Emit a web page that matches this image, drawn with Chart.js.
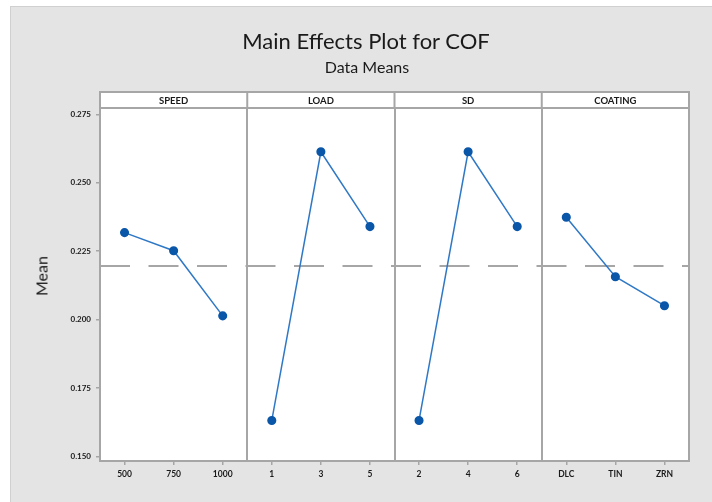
<!DOCTYPE html>
<html>
<head>
<meta charset="utf-8">
<script src="https://cdn.jsdelivr.net/npm/chart.js@4.4.1/dist/chart.umd.min.js"></script>
<style>
    html, body { margin: 0; padding: 0; background: #ffffff; }
    #page { position: relative; width: 712px; height: 502px; overflow: hidden; }
    #frame {
        position: absolute; left: 10px; top: 6px; width: 702px; height: 496px;
        background: #e4e4e4; border-left: 1px solid #d0d0d0; border-top: 1px solid #d0d0d0;
        box-sizing: border-box;
    }
    #chartWrap { position: absolute; left: 0; top: 0; width: 712px; height: 502px; }
    .txt { position: absolute; font-family: Lato, sans-serif; font-weight: normal; color: #1a1a1a; white-space: nowrap; }
    #title { left: 366px; top: 40px; transform: translate(-50%, -50%); font-size: 22px; }
    #subtitle { left: 367px; top: 66px; transform: translate(-50%, -50%); font-size: 16px; }
    #yTitle { left: 41px; top: 276px; transform: translate(-50%, -50%) rotate(-90deg); font-size: 16px; }
</style>
</head>
<body>
<div id="page">
    <div id="frame"></div>
    <div id="chartWrap"><canvas id="mainEffectsChart" width="712" height="502"></canvas></div>
    <div class="txt" id="title">Main Effects Plot for COF</div>
    <div class="txt" id="subtitle">Data Means</div>
    <div class="txt" id="yTitle">Mean</div>
</div>
<script>
// Factors and their level means
const factors = ['SPEED', 'LOAD', 'SD', 'COATING'];
const speedLevels = ['500', '750', '1000'];
const speedMeans = [0.2318, 0.2252, 0.2014];
const loadLevels = ['1', '3', '5'];
const loadMeans = [0.1632, 0.2613, 0.2340];
const sdLevels = ['2', '4', '6'];
const sdMeans = [0.1632, 0.2613, 0.2340];
const coatingLevels = ['DLC', 'TIN', 'ZRN'];
const coatingMeans = [0.2374, 0.2157, 0.2051];
const grandMean = 0.2196;
const yTicks = [0.150, 0.175, 0.200, 0.225, 0.250, 0.275];

const levelSets = [speedLevels, loadLevels, sdLevels, coatingLevels];
const meanSets = [speedMeans, loadMeans, sdMeans, coatingMeans];
const perPanel = 3;
const panelCount = factors.length;

const frameGray = '#a6a6a6';
const pointBlue = '#0a56a8';
const lineBlue = '#2f78c6';

// Each factor gets its own band of the x axis, one slot per level
const allLabels = [];
const slotCenters = [];
levelSets.forEach((levels, p) => {
    levels.forEach((lv, j) => {
        allLabels.push(lv);
        slotCenters.push(p * perPanel + j + 0.5);
    });
});

const panelDatasets = meanSets.map((means, p) => ({
    label: factors[p],
    data: means.map((m, j) => ({ x: p * perPanel + j + 0.5, y: m })),
    borderColor: lineBlue,
    borderWidth: 1.5,
    pointBackgroundColor: pointBlue,
    pointBorderColor: pointBlue,
    pointRadius: 3.8,
    pointHoverRadius: 3.8,
    tension: 0,
    xAxisID: 'x',
    order: 1
}));

const meanLine = {
    label: 'Grand mean',
    data: [{ x: 0, y: grandMean }, { x: panelCount * perPanel, y: grandMean }],
    borderColor: frameGray,
    borderWidth: 2,
    borderDash: [30, 18.5],
    pointRadius: 0,
    xAxisID: 'x',
    order: 2
};

// Panel strips, white plot area and outer frame
const panelFrame = {
    id: 'panelFrame',
    beforeDraw(chart) {
        const { ctx, chartArea: a } = chart;
        ctx.save();
        ctx.fillStyle = '#ffffff';
        ctx.fillRect(a.left, a.top - 16, a.right - a.left, a.bottom - a.top + 16);
        ctx.restore();
    },
    afterDraw(chart) {
        const { ctx, chartArea: a } = chart;
        const xs = chart.scales.x2;
        const headTop = a.top - 16;
        ctx.save();
        ctx.strokeStyle = frameGray;
        ctx.lineWidth = 2;
        ctx.strokeRect(a.left, headTop, a.right - a.left, a.bottom - headTop);
        ctx.beginPath();
        ctx.moveTo(a.left, a.top);
        ctx.lineTo(a.right, a.top);
        for (let p = 1; p < panelCount; p++) {
            const px = xs.getPixelForValue(p * perPanel);
            ctx.moveTo(px, headTop);
            ctx.lineTo(px, a.top);
        }
        ctx.stroke();
        ctx.fillStyle = '#1a1a1a';
        ctx.font = 'bold 9.5px Lato, sans-serif';
        ctx.textAlign = 'center';
        ctx.textBaseline = 'middle';
        factors.forEach((f, p) => {
            const cx = xs.getPixelForValue(p * perPanel + perPanel / 2);
            ctx.fillText(f, cx, headTop + 8.5);
        });
        ctx.restore();
    }
};

new Chart(document.getElementById('mainEffectsChart'), {
    type: 'line',
    data: { datasets: [...panelDatasets, meanLine] },
    options: {
        responsive: false,
        animation: false,
        layout: { padding: { left: 60, right: 23, top: 108, bottom: 11 } },
        plugins: {
            legend: { display: false },
            tooltip: { enabled: false }
        },
        scales: {
            x: {
                type: 'linear',
                position: 'bottom',
                min: 0,
                max: panelCount * perPanel,
                afterBuildTicks: (axis) => { axis.ticks = slotCenters.map(v => ({ value: v })); },
                afterFit: (axis) => { axis.height = 30; },
                border: { display: false },
                grid: { drawOnChartArea: false, drawTicks: true, tickLength: 4, tickColor: frameGray, lineWidth: 1.5 },
                ticks: {
                    autoSkip: false,
                    maxRotation: 0,
                    padding: 4,
                    color: '#1a1a1a',
                    font: { family: 'Lato', size: 8.5, weight: 'bold' },
                    callback: (v, i) => allLabels[i]
                }
            },
            x2: {
                type: 'linear',
                position: 'top',
                min: 0,
                max: panelCount * perPanel,
                afterBuildTicks: (axis) => {
                    axis.ticks = factors.map((f, p) => ({ value: p * perPanel })).concat([{ value: panelCount * perPanel }]);
                },
                afterFit: (axis) => { axis.height = 0; },
                border: { display: false },
                grid: { drawOnChartArea: true, drawTicks: false, color: frameGray, lineWidth: 2 },
                ticks: { display: false }
            },
            y: {
                type: 'linear',
                min: 0.1484,
                max: 0.2773,
                afterBuildTicks: (axis) => { axis.ticks = yTicks.map(v => ({ value: v })); },
                afterFit: (axis) => { axis.width = 40; },
                border: { display: false },
                grid: { drawOnChartArea: false, drawTicks: true, tickLength: 4, tickColor: frameGray, lineWidth: 1.5 },
                ticks: {
                    padding: 5,
                    color: '#1a1a1a',
                    font: { family: 'Lato', size: 8, weight: 'bold' },
                    callback: (v) => v.toFixed(3)
                }
            }
        }
    },
    plugins: [panelFrame]
});
</script>
</body>
</html>
